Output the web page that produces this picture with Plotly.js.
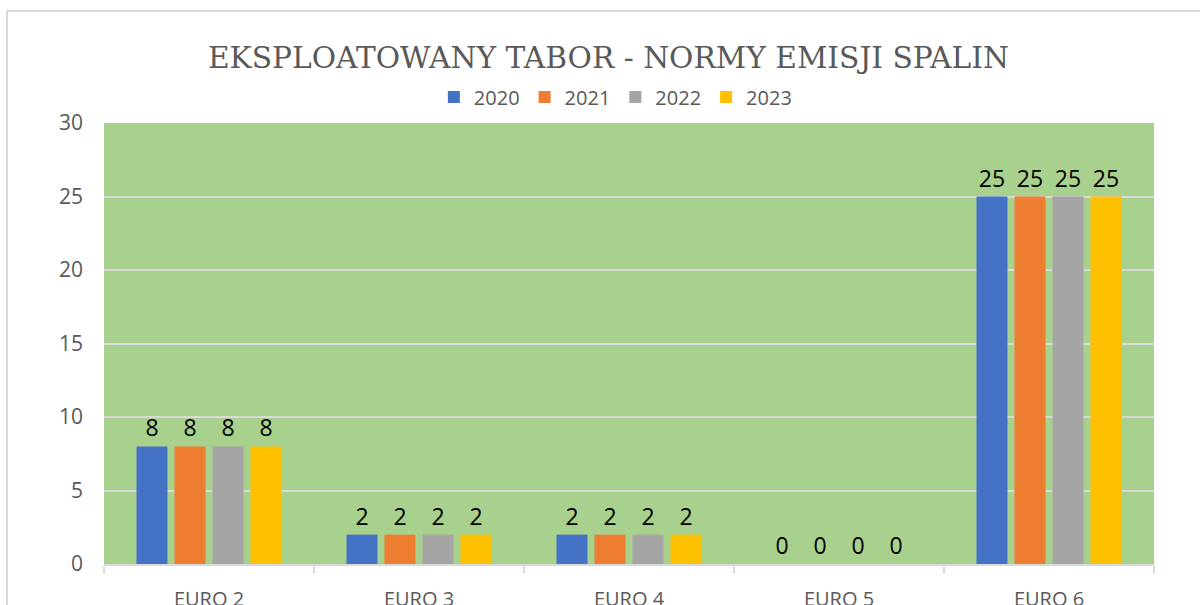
<!DOCTYPE html>
<html>
<head>
<meta charset="utf-8">
<script src="https://cdn.plot.ly/plotly-3.0.1.min.js"></script>
<style>
  html, body { margin: 0; padding: 0; background: #ffffff; overflow: hidden; }
  #wrap { position: relative; width: 1200px; height: 605px; }
  #chart { position: absolute; left: 0; top: 0; width: 1200px; height: 605px; }
  #frame { position: absolute; left: 6px; top: 10px; width: 1400px; height: 800px;
           border: 2px solid #D9D9D9; pointer-events: none; box-sizing: border-box; }
</style>
</head>
<body>
<div id="wrap">
  <div id="chart"></div>
  <div id="frame"></div>
</div>
<script>
const categories = ["EURO 2", "EURO 3", "EURO 4", "EURO 5", "EURO 6"];
const seriesNames = ["2020", "2021", "2022", "2023"];
const values2020 = [8, 2, 2, 0, 25];
const values2021 = [8, 2, 2, 0, 25];
const values2022 = [8, 2, 2, 0, 25];
const values2023 = [8, 2, 2, 0, 25];
const seriesColors = ["#4472C4", "#ED7D31", "#A5A5A5", "#FFC000"];
const yTicks = [0, 5, 10, 15, 20, 25, 30];

const allValues = [values2020, values2021, values2022, values2023];
const traces = allValues.map((vals, i) => ({
  type: "bar",
  name: seriesNames[i],
  x: categories,
  y: vals,
  marker: { color: seriesColors[i] },
  text: vals.map(v => String(v)),
  textposition: "outside",
  cliponaxis: false,
  textfont: { family: "Open Sans, sans-serif", size: 23, color: "#000000" },
  hoverinfo: "x+y+name"
}));

const layout = {
  width: 1200,
  height: 605,
  margin: { l: 104, r: 46, t: 123, b: 41 },
  paper_bgcolor: "#ffffff",
  plot_bgcolor: "#A9D18E",
  title: {
    text: "EKSPLOATOWANY TABOR - NORMY EMISJI SPALIN",
    font: { family: "DejaVu Serif, Liberation Serif, serif", size: 29.7, color: "#595959" },
    xref: "container", x: 0.507, xanchor: "center",
    yref: "container", y: 0.904, yanchor: "middle"
  },
  showlegend: true,
  legend: {
    orientation: "h",
    x: 0.487, xanchor: "center",
    y: 1.059, yanchor: "middle",
    font: { family: "Open Sans, sans-serif", size: 20, color: "#595959" },
    bgcolor: "rgba(0,0,0,0)",
    itemclick: false
  },
  barmode: "group",
  bargap: 0.276,
  bargroupgap: 0.184,
  xaxis: {
    type: "category",
    showgrid: false,
    showline: true,
    linecolor: "#D9D9D9",
    linewidth: 2,
    ticks: "outside",
    tickson: "boundaries",
    ticklen: 7,
    tickwidth: 2,
    tickcolor: "#D9D9D9",
    ticklabelstandoff: 16,
    tickfont: { family: "Open Sans, sans-serif", size: 20, color: "#595959" },
    fixedrange: true
  },
  yaxis: {
    range: [0, 30],
    tickvals: yTicks,
    ticktext: yTicks.map(String),
    showgrid: true,
    gridcolor: "#D9D9D9",
    gridwidth: 2,
    zeroline: false,
    showline: false,
    ticks: "",
    ticklabelstandoff: 20,
    tickfont: { family: "Open Sans, sans-serif", size: 21, color: "#595959" },
    fixedrange: true
  }
};

Plotly.newPlot("chart", traces, layout, { displayModeBar: false, staticPlot: false });
</script>
</body>
</html>
